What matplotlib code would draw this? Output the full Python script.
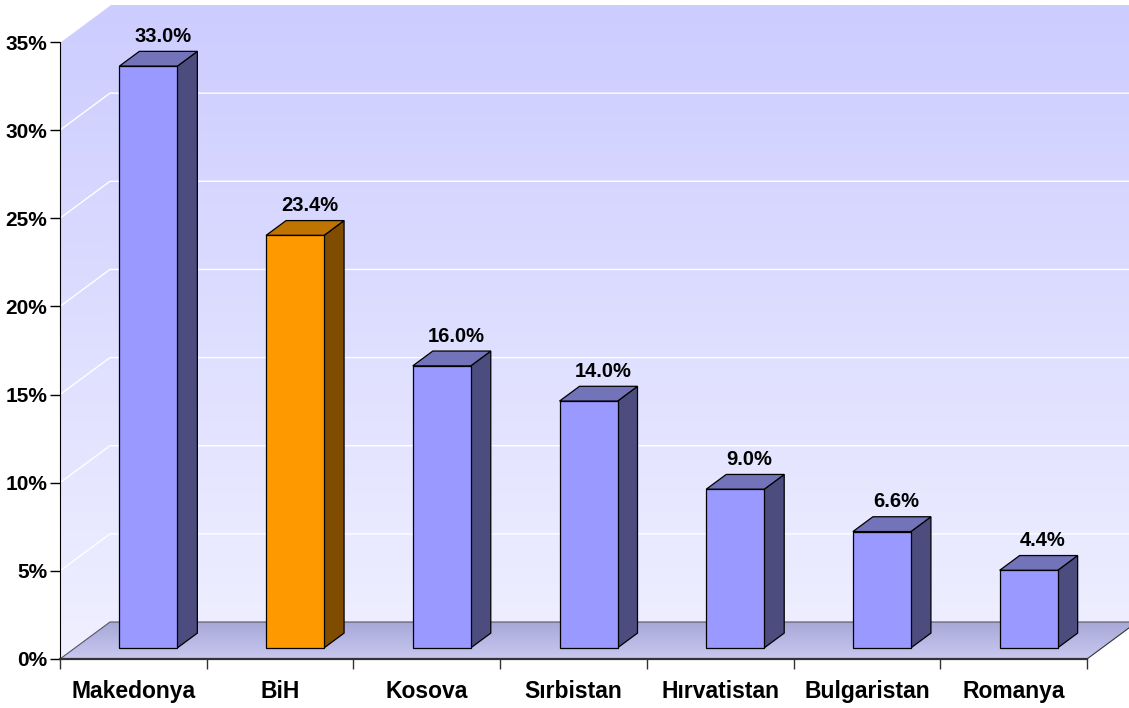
import numpy as np
import matplotlib.pyplot as plt
from matplotlib.patches import Polygon

categories = ['Makedonya', 'BiH', 'Kosova', 'Sırbistan', 'Hırvatistan', 'Bulgaristan', 'Romanya']
values = [33.0, 23.4, 16.0, 14.0, 9.0, 6.6, 4.4]
highlight = 'BiH'
yticks = [0, 5, 10, 15, 20, 25, 30, 35]

plt.rcParams['font.family'] = ['Liberation Sans', 'DejaVu Sans']
plt.rcParams['font.weight'] = 'bold'

W, H = 1129, 708
fig = plt.figure(figsize=(W / 100, H / 100), dpi=100)

# pixel scale of one category slot / one percent
px_x = (1087 - 60) / 7
px_y = (659 - 42) / 35
ax = fig.add_axes([60 / W, 49 / H, (W - 60) / W, 654 / H])
ax.set_xlim(0, (W - 60) / px_x)
ax.set_ylim(0, 654 / px_y)

n = len(categories)
ymax = yticks[-1]
ddx = 50 / px_x   # depth offset of the 3d box
ddy = 37 / px_y


def gradient_poly(pts, top_col, bot_col, y0, y1, z):
    poly = Polygon(pts, closed=True, facecolor='none', edgecolor='none', zorder=z)
    ax.add_patch(poly)
    grad = np.linspace(0, 1, 256)[:, None]
    c1 = np.array(plt.matplotlib.colors.to_rgb(top_col))
    c2 = np.array(plt.matplotlib.colors.to_rgb(bot_col))
    img = c1[None, None, :] * (1 - grad[:, :, None]) + c2[None, None, :] * grad[:, :, None]
    xs = [p[0] for p in pts]
    im = ax.imshow(img, extent=[min(xs), max(xs), y0, y1], origin='upper',
                   aspect='auto', zorder=z, interpolation='bilinear')
    im.set_clip_path(poly)


# back wall
gradient_poly([(ddx, ddy), (n + ddx, ddy), (n + ddx, ymax + ddy), (ddx, ymax + ddy)],
              '#ccccff', '#eeeeff', ddy, ymax + ddy, 1)
# side wall
gradient_poly([(0, 0), (ddx, ddy), (ddx, ymax + ddy), (0, ymax)],
              '#ccccff', '#f0f0ff', 0, ymax + ddy, 1)

# gridlines
for t in yticks[1:-1]:
    ax.plot([0, ddx, n + ddx], [t, t + ddy, t + ddy], color='white', lw=1, zorder=2)

# floor
gradient_poly([(0, 0), (n, 0), (n + ddx, ddy), (ddx, ddy)],
              '#a8a8d8', '#c8c8f0', 0, ddy, 3)
ax.plot([0, ddx, n + ddx], [0, ddy, ddy], color='#555566', lw=0.8, zorder=3)
ax.plot([n, n + ddx], [0, ddy], color='#333333', lw=0.8, zorder=3)
ax.plot([0, ddx], [ymax, ymax + ddy], color='white', lw=1, zorder=2)

# bars
bw = 58 / px_x
f0, f1 = 0.3, 0.7
for i, (c, v) in enumerate(zip(categories, values)):
    if c == highlight:
        front, top, side = '#ff9900', '#bf7300', '#804c00'
    else:
        front, top, side = '#9999ff', '#7373b9', '#4c4c7f'
    x0 = i + 0.5 - bw / 2 + f0 * ddx
    x1 = x0 + bw
    y0 = f0 * ddy
    y1 = v + f0 * ddy
    d = (f1 - f0)
    ax.add_patch(Polygon([(x1, y0), (x1 + d * ddx, y0 + d * ddy), (x1 + d * ddx, y1 + d * ddy), (x1, y1)],
                         facecolor=side, edgecolor='black', lw=0.9, zorder=5))
    ax.add_patch(Polygon([(x0, y1), (x1, y1), (x1 + d * ddx, y1 + d * ddy), (x0 + d * ddx, y1 + d * ddy)],
                         facecolor=top, edgecolor='black', lw=0.9, zorder=5))
    ax.bar(i + 0.5 + f0 * ddx, v, width=bw, bottom=y0, color=front, edgecolor='black',
           lw=0.9, zorder=6)
    ax.text(i + 0.5 + 0.5 * ddx + 0.03, v + f1 * ddy + 0.3, f'{v:.1f}%', ha='center', va='bottom',
            fontsize=14.5, fontweight='bold', zorder=7)

# axes
for s in ['top', 'right']:
    ax.spines[s].set_visible(False)
ax.spines['left'].set_bounds(0, ymax)
ax.spines['left'].set_zorder(8)
ax.spines['bottom'].set_bounds(0, n)
ax.spines['bottom'].set_color('#333333')
ax.spines['bottom'].set_linewidth(1.6)
ax.spines['bottom'].set_zorder(8)
ax.set_yticks(yticks)
ax.set_yticklabels([f'{t}%' for t in yticks])
ax.set_xticks(range(n + 1))
ax.set_xticklabels([])
ax.set_xticks([i + 0.5 for i in range(n)], minor=True)
ax.set_xticklabels(categories, minor=True)
ax.tick_params(axis='y', length=7, width=1, direction='out', pad=2, labelsize=15)
ax.tick_params(axis='x', which='major', length=7, width=1, color='#333333')
ax.tick_params(axis='x', which='minor', length=0, pad=15, labelsize=16.5)

fig.savefig('out.png', dpi=100)
